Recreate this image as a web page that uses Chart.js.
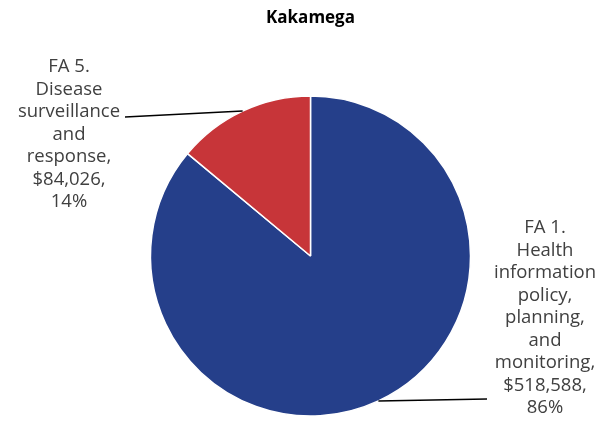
<!DOCTYPE html>
<html>
<head>
<meta charset="utf-8">
<script src="https://cdn.jsdelivr.net/npm/chart.js@4.4.0/dist/chart.umd.min.js"></script>
<style>
html,body{margin:0;padding:0;background:#fff;}
#wrap{width:602px;height:421px;position:relative;}
</style>
</head>
<body>
<div id="wrap"><canvas id="c" width="602" height="421"></canvas></div>
<script>
const chartTitle = "Kakamega";
const categories = ["FA 1. Health information policy, planning, and monitoring", "FA 5. Disease surveillance and response"];
const values = [518588, 84026];
const colors = ["#253F8A", "#C73539"];

const FONT = "'Open Sans', 'Noto Sans', sans-serif";

function labelLines(i) {
  const words = categories[i].split(" ");
  const lines = [];
  for (let k = 0; k < words.length; k++) {
    if (words[k] === "FA" && k + 1 < words.length) { lines.push(words[k] + " " + words[k+1]); k++; }
    else lines.push(words[k]);
  }
  lines[lines.length - 1] += ",";
  const total = values.reduce((a, b) => a + b, 0);
  lines.push("$" + values[i].toLocaleString("en-US") + ",");
  lines.push(Math.round(values[i] / total * 100) + "%");
  return lines;
}

const labelLayout = [
  { cx: 545, top: 228, endX: 487, endY: 399 },
  { cx: 69, top: 67, endX: 125, endY: 117 }
];

const labelPlugin = {
  id: "pieLabels",
  afterDatasetsDraw(chart) {
    const ctx = chart.ctx;
    const meta = chart.getDatasetMeta(0);
    meta.data.forEach((arc, i) => {
      const p = arc.getProps(["x", "y", "startAngle", "endAngle", "outerRadius"], true);
      const mid = (p.startAngle + p.endAngle) / 2;
      const sx = p.x + Math.cos(mid) * p.outerRadius;
      const sy = p.y + Math.sin(mid) * p.outerRadius;
      const L = labelLayout[i];
      ctx.save();
      ctx.strokeStyle = "#000";
      ctx.lineWidth = 1.5;
      ctx.beginPath();
      ctx.moveTo(sx, sy);
      ctx.lineTo(L.endX, L.endY);
      ctx.stroke();
      ctx.fillStyle = "#404040";
      ctx.font = "18.5px " + FONT;
      ctx.textAlign = "center";
      ctx.textBaseline = "middle";
      labelLines(i).forEach((t, j) => ctx.fillText(t, L.cx, L.top + j * 22.5));
      ctx.restore();
    });
  }
};

new Chart(document.getElementById("c"), {
  type: "pie",
  data: {
    labels: categories,
    datasets: [{
      data: values,
      backgroundColor: colors,
      borderColor: "#ffffff",
      borderWidth: 1.5
    }]
  },
  options: {
    responsive: false,
    animation: false,
    radius: 160,
    layout: { padding: { left: 19, right: 0, top: 0, bottom: 0 } },
    plugins: {
      legend: { display: false },
      tooltip: { enabled: false },
      title: {
        display: true,
        text: chartTitle,
        color: "#000",
        font: { family: FONT, size: 17, weight: "bold", lineHeight: 1.2 },
        padding: { top: 8, bottom: 62.6 }
      }
    }
  },
  plugins: [labelPlugin]
});
</script>
</body>
</html>
